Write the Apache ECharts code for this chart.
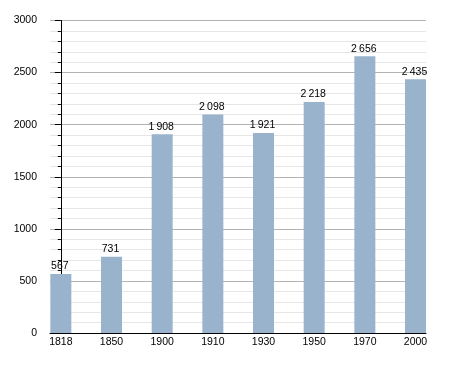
<!DOCTYPE html>
<html><head><meta charset="utf-8">
<script src="https://cdn.jsdelivr.net/npm/echarts@6/dist/echarts.min.js"></script>
<style>html,body{margin:0;padding:0;background:#fff}#c{width:455px;height:373px}</style>
</head><body><div id="c"></div>
<script>
const categories = ['1818','1850','1900','1910','1930','1950','1970','2000'];
const population = [567, 731, 1908, 2098, 1921, 2218, 2656, 2435];
const yTicks = [0, 500, 1000, 1500, 2000, 2500, 3000];

function fmt(v){
  const s = String(v);
  return s.length > 3 ? s.slice(0, s.length-3) + '\u2009' + s.slice(-3) : s;
}
const chart = echarts.init(document.getElementById('c'), null, {renderer:'canvas'});
const font = 'Liberation Sans, Arial, sans-serif';
chart.setOption({
  animation: false,
  backgroundColor: '#fff',
  grid: {left: 50, right: 29, top: 20.5, bottom: 40, containLabel: false},
  xAxis: {
    type: 'value', min: -0.214, max: 7.207,
    axisLine: {show: true, onZero: false, lineStyle: {color: '#000', width: 1}},
    axisTick: {show: false},
    splitLine: {show: false},
    axisLabel: {
      customValues: categories.map((c,i)=>i),
      formatter: v => categories[Math.round(v)],
      color: '#000', fontFamily: font, fontSize: 10.5, margin: 4
    }
  },
  yAxis: {
    type: 'value', min: yTicks[0], max: yTicks[yTicks.length-1], interval: 500,
    axisLine: {show: true, lineStyle: {color: '#000', width: 1}},
    axisTick: {show: true, length: 6, lineStyle: {color: '#000'}},
    minorTick: {show: true, splitNumber: 5, length: 3, lineStyle: {color: '#000'}},
    splitLine: {show: true, lineStyle: {color: '#b3b3b3', width: 1}},
    minorSplitLine: {show: true, lineStyle: {color: '#e6e6e6', width: 1}},
    axisLabel: {color: '#000', fontFamily: font, fontSize: 10.5, margin: 13,
      formatter: v => String(v)}
  },
  series: [{
    type: 'bar',
    data: population.map((v,i)=>[i, v]),
    barWidth: 21,
    itemStyle: {color: '#99b3cc'},
    label: {show: true, position: 'top', distance: 2, offset: [-1, 0], color: '#000',
      fontFamily: font, fontSize: 10.5, formatter: p => fmt(p.value[1])}
  }]
});
</script></body></html>
